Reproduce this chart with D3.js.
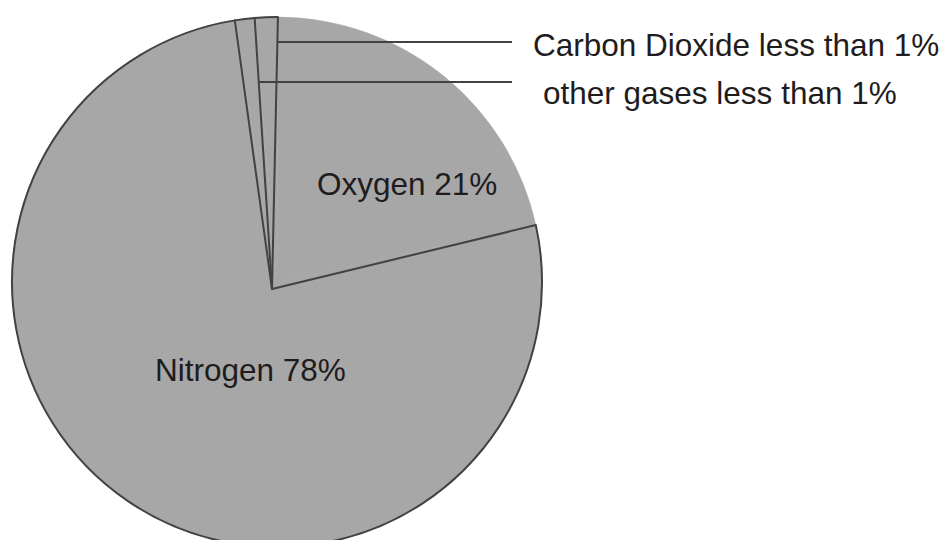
<!DOCTYPE html>
<html>
<head>
<meta charset="utf-8">
<script src="https://cdn.jsdelivr.net/npm/d3@7/dist/d3.min.js"></script>
<style>
  body { margin: 0; background: #fff; }
  text { font-family: "Liberation Sans", Arial, sans-serif; fill: #1f1c1d; }
</style>
</head>
<body>
<div id="chart"></div>
<script>
// slices clockwise from the top
const gases = ["Oxygen", "Nitrogen", "other gases", "Carbon Dioxide"]
const shares = [21.5, 75.9, 1.2, 1.4]
const labels = ["Oxygen 21%", "Nitrogen 78%", "other gases less than 1%", "Carbon Dioxide less than 1%"]

const WIDTH = 946, HEIGHT = 540
const CENTER = { X: 277, Y: 282 }
const RADIUS = 265
// the drawn apex sits a little off the circle centre
const APEX = { X: -5, Y: 7 }
const START = 0.2 * Math.PI / 180
const FILL = "#a7a7a7", STROKE = "#424242"
const FONT = 31.5

const svg = d3.select("#chart").append("svg")
  .attr("width", WIDTH)
  .attr("height", HEIGHT)

const g = svg.append("g")
  .attr("transform", `translate(${CENTER.X}, ${CENTER.Y})`)

const data = gases.map((name, i) => ({ name, value: shares[i], label: labels[i] }))

const pie = d3.pie()
  .sort(null)
  .value(d => d.value)
  .startAngle(START)
  .endAngle(START + 2 * Math.PI)

const arcs = pie(data)

const arc = d3.arc().innerRadius(0).outerRadius(RADIUS)
const rim = d3.arc().innerRadius(RADIUS).outerRadius(RADIUS)

// fills
g.selectAll("path.slice")
  .data(arcs)
  .enter().append("path")
    .attr("class", "slice")
    .attr("d", arc)
    .attr("fill", FILL)
    .attr("stroke", FILL)
    .attr("stroke-width", 0.5)

// outer outline, the oxygen slice has none
g.selectAll("path.rim")
  .data(arcs.filter(d => d.data.name !== "Oxygen"))
  .enter().append("path")
    .attr("class", "rim")
    .attr("d", rim)
    .attr("fill", "none")
    .attr("stroke", STROKE)
    .attr("stroke-width", 2)

// radial edges from the apex
const edge = a => d3.pointRadial(a, RADIUS)
g.selectAll("line.edge")
  .data(arcs)
  .enter().append("line")
    .attr("class", "edge")
    .attr("x1", APEX.X)
    .attr("y1", APEX.Y)
    .attr("x2", d => edge(d.startAngle)[0])
    .attr("y2", d => edge(d.startAngle)[1])
    .attr("stroke", STROKE)
    .attr("stroke-width", 2)
    .attr("stroke-linecap", "round")

// x of a slice's end edge at a given height
function edgeX(angle, y) {
  const p = edge(angle)
  const t = (y - APEX.Y) / (p[1] - APEX.Y)
  return APEX.X + t * (p[0] - APEX.X)
}

// inside labels
const inside = { "Oxygen": [317, 195], "Nitrogen": [155, 381] }
svg.selectAll("text.inside")
  .data(arcs.filter(d => inside[d.data.name]))
  .enter().append("text")
    .attr("class", "inside")
    .attr("x", d => inside[d.data.name][0])
    .attr("y", d => inside[d.data.name][1])
    .attr("font-size", FONT)
    .text(d => d.data.label)

// leader labels for the small slices
const leader = {
  "Carbon Dioxide": { y: 42, tx: 533, ty: 56 },
  "other gases": { y: 82, tx: 543, ty: 104 }
}
const small = arcs.filter(d => leader[d.data.name])

svg.selectAll("line.leader")
  .data(small)
  .enter().append("line")
    .attr("class", "leader")
    .attr("x1", d => CENTER.X + edgeX(d.endAngle, leader[d.data.name].y - CENTER.Y))
    .attr("y1", d => leader[d.data.name].y)
    .attr("x2", 512)
    .attr("y2", d => leader[d.data.name].y)
    .attr("stroke", STROKE)
    .attr("stroke-width", 1.8)

svg.selectAll("text.leader")
  .data(small)
  .enter().append("text")
    .attr("class", "leader")
    .attr("x", d => leader[d.data.name].tx)
    .attr("y", d => leader[d.data.name].ty)
    .attr("font-size", FONT)
    .text(d => d.data.label)
</script>
</body>
</html>
